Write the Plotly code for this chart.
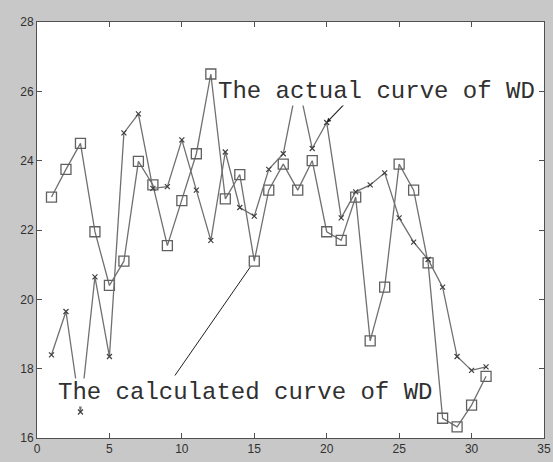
import plotly.graph_objects as go

x_index = list(range(1, 32))
calculated_wd = [22.95, 23.75, 24.5, 21.95, 20.4, 21.1, 23.98, 23.3, 21.55, 22.85,
                 24.2, 26.5, 22.9, 23.6, 21.1, 23.15, 23.9, 23.15, 24.0, 21.95,
                 21.7, 22.95, 18.8, 20.35, 23.9, 23.15, 21.05, 16.57, 16.32, 16.95, 17.78]
actual_wd = [18.4, 19.65, 16.75, 20.65, 18.35, 24.8, 25.35, 23.2, 23.25, 24.6,
             23.15, 21.7, 24.25, 22.65, 22.4, 23.75, 24.2, 26.3, 24.35, 25.1,
             22.35, 23.1, 23.3, 23.65, 22.35, 21.65, 21.15, 20.35, 18.35, 17.95, 18.05]
x_ticks = [0, 5, 10, 15, 20, 25, 30, 35]
y_ticks = [16, 18, 20, 22, 24, 26, 28]

line_col = "#707070"

fig = go.Figure()
fig.add_trace(go.Scatter(
    x=x_index, y=calculated_wd, mode="lines+markers",
    line=dict(color=line_col, width=1.3),
    marker=dict(symbol="square-open", size=10, color="#606060", line=dict(width=1.3)),
    showlegend=False))
fig.add_trace(go.Scatter(
    x=x_index, y=actual_wd, mode="lines+markers",
    line=dict(color=line_col, width=1.3),
    marker=dict(symbol="x-thin-open", size=5, color="#404040", line=dict(width=1.2)),
    showlegend=False))

mono = dict(family="Liberation Mono, Courier New, monospace", size=24, color="#303030")

# arrows
fig.add_annotation(x=x_index[19], y=actual_wd[19], ax=21.4, ay=25.71,
                   xref="x", yref="y", axref="x", ayref="y", text="",
                   showarrow=True, arrowhead=2, arrowsize=0.8, arrowwidth=1.1,
                   arrowcolor="#202020")
fig.add_annotation(x=x_index[14], y=calculated_wd[14], ax=9.45, ay=17.76,
                   xref="x", yref="y", axref="x", ayref="y", text="",
                   showarrow=True, arrowhead=0, arrowwidth=1.0, standoff=7,
                   arrowcolor="#202020")
# labels
fig.add_annotation(x=12.4, y=26.0, xref="x", yref="y", text="The actual curve of WD",
                   showarrow=False, xanchor="left", yanchor="middle",
                   bgcolor="white", font=mono, borderpad=0)
fig.add_annotation(x=1.35, y=17.3, xref="x", yref="y", text="The calculated curve of WD",
                   showarrow=False, xanchor="left", yanchor="middle",
                   bgcolor="white", font=mono, borderpad=0)

axis_common = dict(showgrid=False, zeroline=False, showline=True, linecolor="#505050",
                   linewidth=1, mirror="ticks", ticks="inside", ticklen=5, automargin=False,
                   tickcolor="#505050", tickfont=dict(family="Arial, Liberation Sans", size=12,
                                                     color="#303030"))
fig.update_xaxes(range=[0, 35], tickvals=x_ticks, **axis_common)
fig.update_yaxes(range=[16, 28], tickvals=y_ticks, **axis_common)

fig.update_layout(width=553, height=462, paper_bgcolor="#c8c8c8", plot_bgcolor="white",
                  margin=dict(l=37, r=9, t=22, b=24))

fig.write_html("out.html", config={"displayModeBar": False},
               post_script="document.body.style.margin='0';document.body.style.overflow='hidden';")
